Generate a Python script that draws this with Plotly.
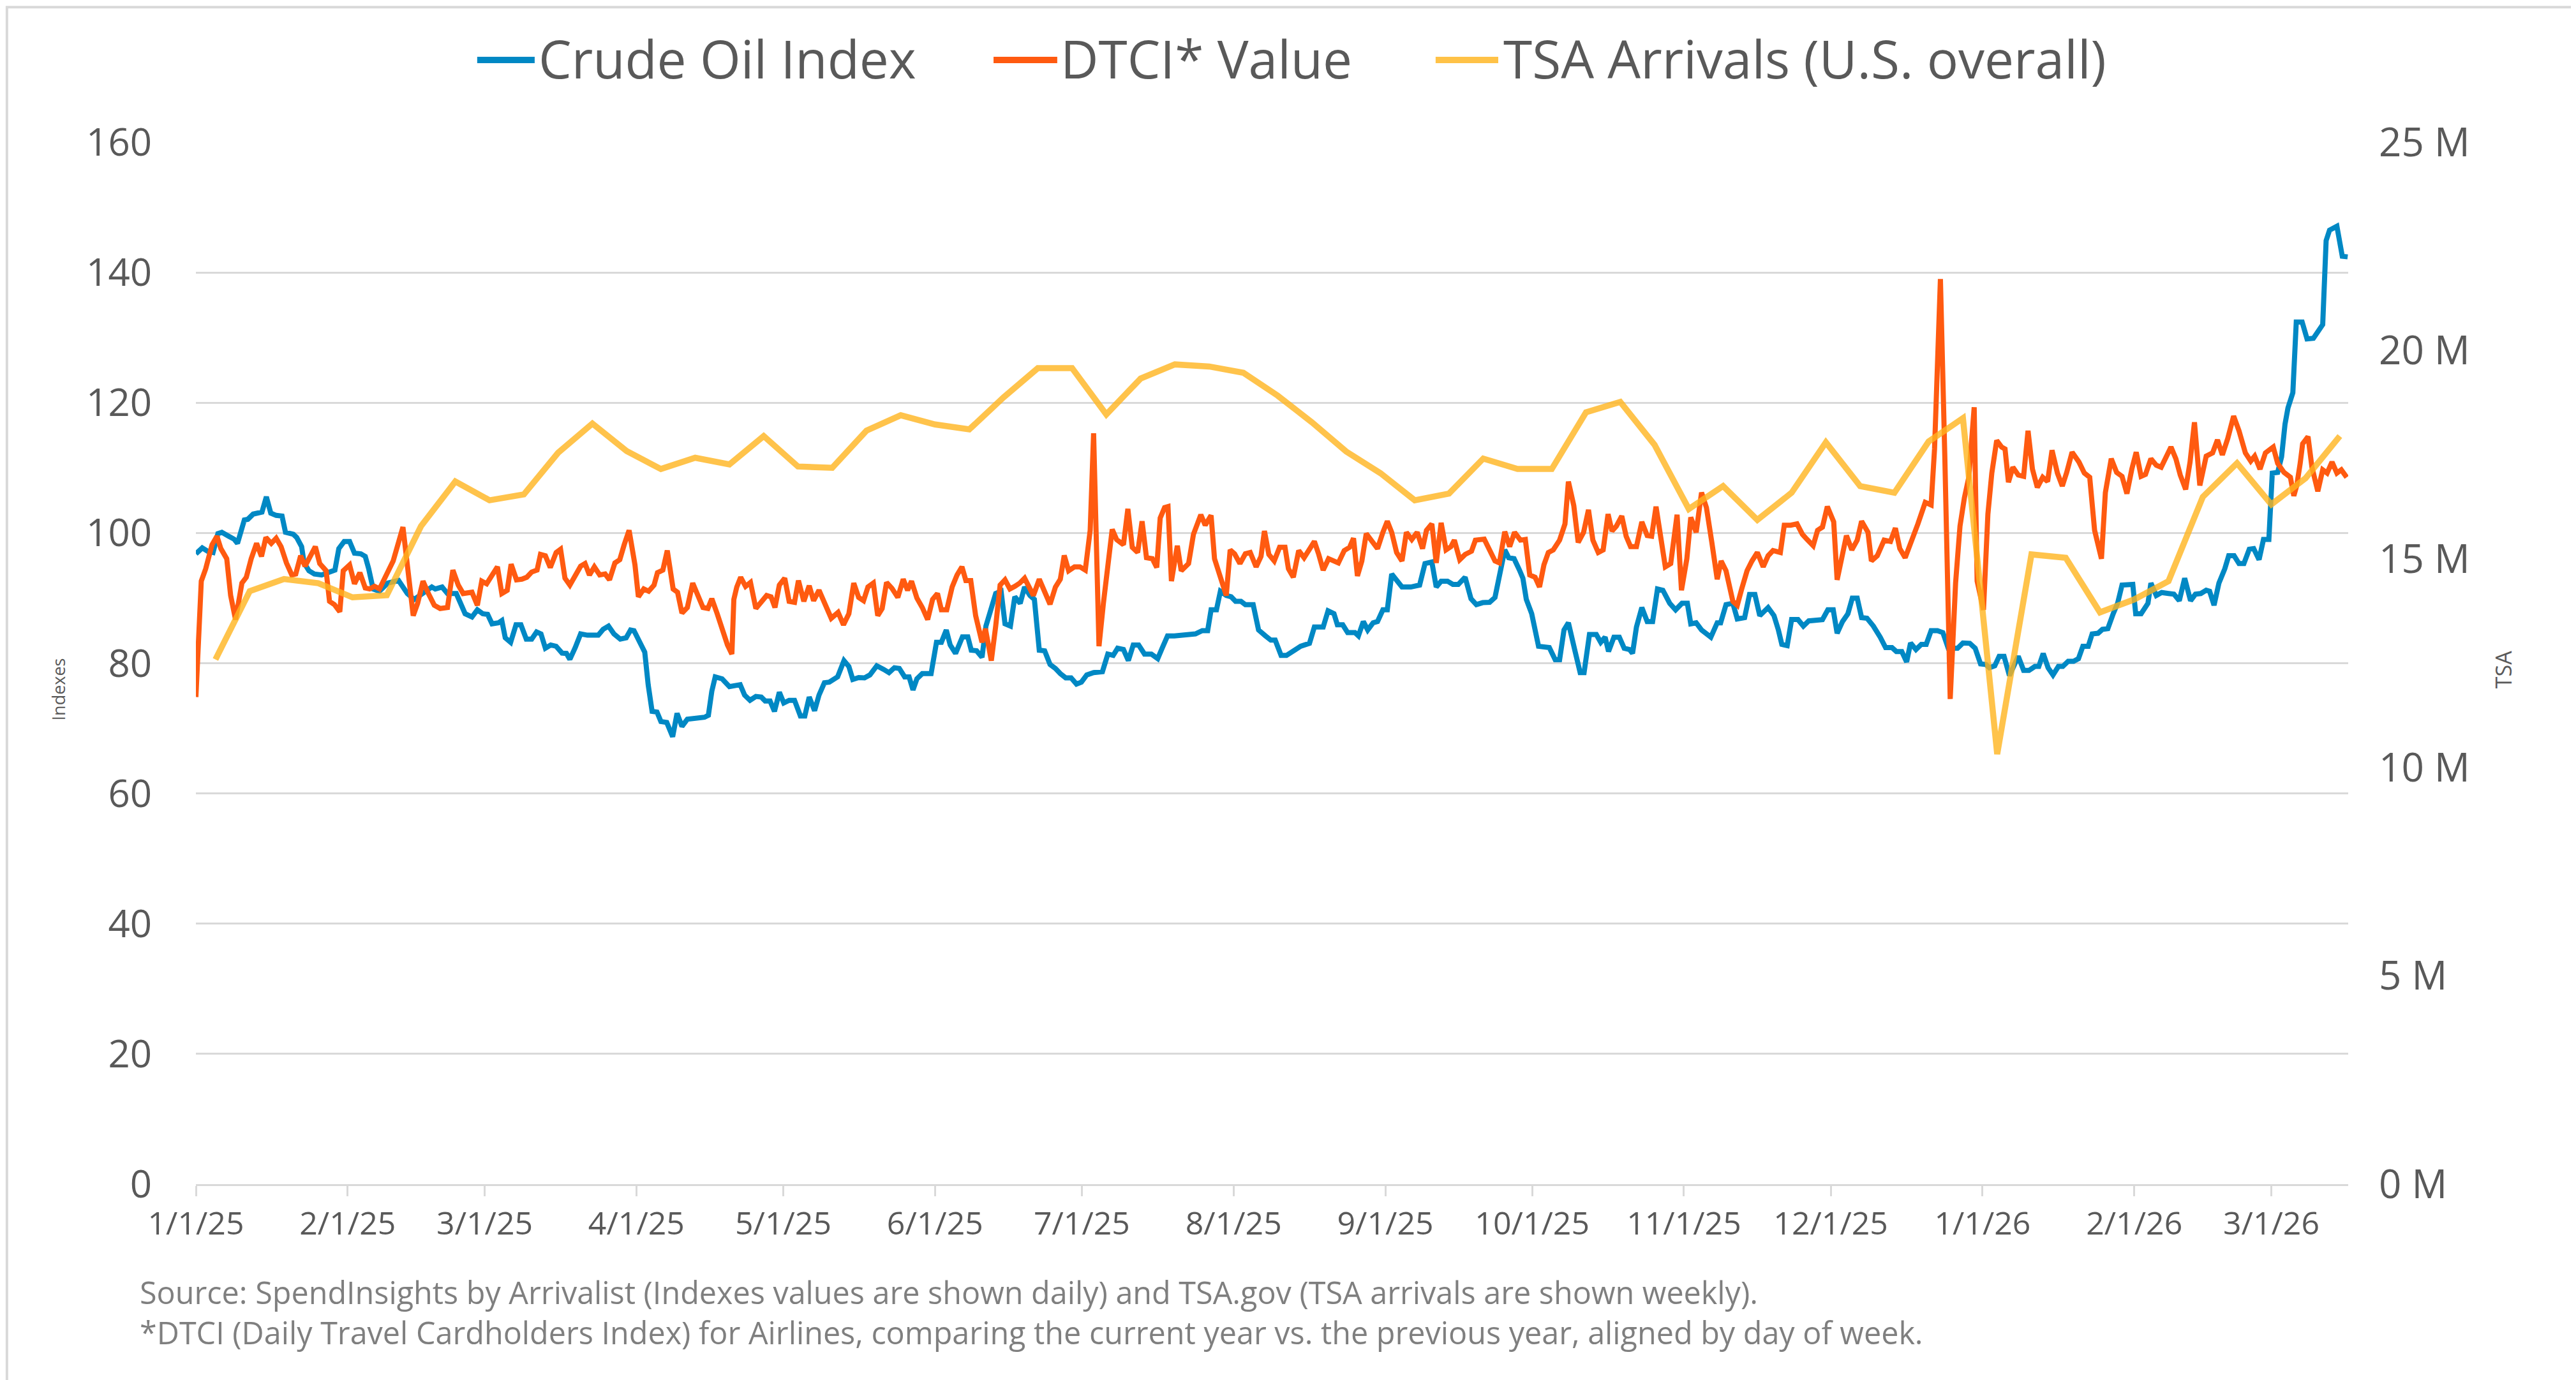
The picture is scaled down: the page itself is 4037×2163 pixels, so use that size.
import pandas as pd
import plotly.graph_objects as go

# ---------------- data ----------------
BASE_DATE = "2025-01-01"   # day offsets below are counted from this date

# Crude Oil Index (daily) : (day offset, index value)
crude_points = [
    (0, 96.8), (1.3, 97.7), (2.4, 97.2), (3.5, 97.0), (4.5, 99.9), (5.3, 100.1), (6.7, 99.5),
    (7.8, 99.05), (8.5, 98.4), (9.9, 102.0), (10.6, 102.1), (11.7, 102.9), (13.5, 103.2),
    (14.4, 105.55), (15.3, 103.05), (16.4, 102.7), (17.6, 102.6), (18.3, 100.1), (19.9, 99.8),
    (20.6, 99.3), (21.6, 97.9), (22.1, 95.4), (23.1, 94.2), (24.2, 93.7), (25.7, 93.55),
    (27.1, 93.9), (28.4, 94.3), (29.2, 97.6), (30.3, 98.7), (31.4, 98.7), (32.4, 96.9),
    (33.7, 96.8), (34.6, 96.4), (35.3, 94.5), (36.2, 91.4), (37.5, 91.05), (39.2, 92.3),
    (41.4, 92.7), (43.2, 90.7), (44.6, 89.8), (46.4, 90.7), (48.2, 91.7), (48.9, 91.4),
    (50.3, 91.7), (51.4, 90.7), (53.2, 90.7), (55, 87.6), (56.4, 87.1), (57.5, 88.2),
    (58.6, 87.6), (59.6, 87.5), (60.5, 86.05), (61.8, 86.2), (62.5, 86.55), (63.2, 83.9),
    (64.3, 83.2), (65.4, 85.9), (66.4, 85.9), (67.5, 83.7), (68.6, 83.7), (69.6, 84.8),
    (70.5, 84.5), (71.4, 82.3), (72.5, 82.8), (73.6, 82.6), (74.8, 81.55), (75.7, 81.5),
    (76.4, 80.6), (77.5, 82.4), (78.6, 84.5), (80, 84.3), (82.2, 84.3), (83.2, 85.2),
    (84.3, 85.7), (85.4, 84.5), (86.7, 83.7), (87.9, 83.9), (88.8, 85.1), (89.5, 85.0),
    (90.8, 83.2), (91.7, 81.7), (92.4, 76.7), (93.2, 72.6), (94.2, 72.5), (95, 71.05),
    (96.2, 70.9), (97.4, 68.7), (98.3, 72.3), (99.3, 70.3), (100.4, 71.4), (102.2, 71.5),
    (103.9, 71.7), (104.7, 72.0), (105.4, 75.7), (106.1, 77.9), (107.5, 77.6),
    (109, 76.4), (110.1, 76.5), (111.2, 76.7), (112.1, 75.1), (113.2, 74.3), (114.4, 74.9),
    (115.5, 74.8), (116.3, 74.2), (117.3, 74.2), (118.2, 72.6), (119.2, 75.55), (120.1, 73.9),
    (121.2, 74.3), (122.3, 74.3), (123.5, 71.9), (124.4, 71.9), (125.3, 74.8), (126.4, 72.7),
    (127.3, 75.1), (128.4, 77.0), (129.4, 77.1), (131.1, 77.9), (132.4, 80.4), (133.4, 79.5),
    (134.2, 77.5), (135.4, 77.8), (136.6, 77.75), (137.7, 78.2), (139.1, 79.6), (140.5, 79.05),
    (141.6, 78.55), (142.7, 79.3), (143.7, 79.2), (144.8, 77.9), (145.7, 77.9), (146.5, 75.9),
    (147.3, 77.6), (148.4, 78.4), (150.2, 78.4), (151.3, 83.2), (152.3, 83.2), (153.3, 85.1),
    (154.1, 82.8), (155.2, 81.5), (156.6, 84.05), (157.7, 84.05), (158.4, 82.0), (159.5, 81.9),
    (160.6, 80.9), (161.4, 85.7), (163.4, 90.7), (164.5, 91.05), (165.3, 86.05), (166.4, 85.7),
    (167.3, 90.2), (168.4, 89.2), (169.3, 91.7), (170.4, 90.4), (171.3, 89.8), (172.3, 82.0),
    (173.4, 81.9), (174.5, 79.8), (175.6, 79.2), (176.6, 78.4), (177.7, 77.75), (178.8, 77.75),
    (179.9, 76.8), (180.9, 77.1), (182, 78.2), (183.4, 78.55), (185.2, 78.7), (186.3, 81.4),
    (187.4, 81.2), (188.3, 82.3), (189.5, 82.1), (190.5, 80.4), (191.5, 82.8), (192.6, 82.8),
    (193.8, 81.4), (195.2, 81.4), (196.5, 80.7), (197.4, 82.3), (198.5, 84.2), (199.9, 84.2),
    (201.3, 84.3), (202.7, 84.5), (204.2, 84.5), (205.6, 85.0), (206.7, 85.0), (207.4, 88.2),
    (208.5, 88.2), (209.3, 91.05), (210.5, 90.4), (211.5, 90.2), (212.4, 89.5), (213.5, 89.5),
    (214.4, 89.0), (216, 89.0), (217.1, 85.1), (218.5, 84.2), (219.6, 83.55), (220.5, 83.55),
    (221.7, 81.2), (222.8, 81.2), (224.2, 81.9), (225.7, 82.6), (227.5, 83.05), (228.5, 85.55),
    (230.3, 85.55), (231.3, 88.05), (232.5, 87.6), (233.2, 85.9), (234.3, 85.9), (235.3, 84.7),
    (236.8, 84.7), (237.5, 84.2), (238.5, 86.4), (239.4, 85.1), (240.5, 86.2), (241.4, 86.4),
    (242.5, 88.2), (243.4, 88.2), (244.3, 93.7), (245.3, 92.6), (246.4, 91.7), (248.2, 91.7),
    (250, 92.0), (251.1, 95.3), (252.5, 95.55), (253.4, 91.7), (254.4, 92.6), (255.7, 92.6),
    (256.8, 92.1), (257.9, 92.1), (259.3, 93.2), (260.5, 89.9), (261.6, 89.0), (262.9, 89.3),
    (264.3, 89.35), (265.4, 90.1), (266.4, 93.9), (267.4, 97.4), (268.2, 96.2), (269.3, 96.05),
    (270.4, 94.3), (271.1, 93.05), (271.8, 89.8), (272.9, 87.6), (274.3, 82.6), (276.5, 82.4),
    (277.7, 80.55), (278.6, 80.55), (279.5, 85.1), (280.4, 86.2), (281.8, 81.7), (282.8, 78.55),
    (283.6, 78.55), (284.7, 84.4), (286.1, 84.4), (287, 83.2), (287.9, 84.0), (288.6, 81.8),
    (289.7, 84.0), (290.8, 84.0), (291.8, 82.3), (292.9, 82.1), (293.5, 81.5), (294.3, 85.55),
    (295.4, 88.55), (296.5, 86.4), (297.6, 86.4), (298.6, 91.4), (299.7, 91.2), (301.1, 89.2),
    (302.3, 88.2), (303.6, 89.2), (304.7, 89.2), (305.4, 86.05), (306.5, 86.2), (307.6, 85.1),
    (309.5, 84.0), (310.8, 86.2), (311.5, 86.2), (312.6, 89.0), (314, 89.2), (314.9, 86.8),
    (316.4, 87.0), (317.4, 90.55), (318.5, 90.55), (319.5, 87.3), (321.2, 88.55), (322.4, 87.3),
    (323.3, 85.1), (324, 82.9), (325.1, 82.7), (326, 86.7), (327.3, 86.7), (328.4, 85.7),
    (329.5, 86.5), (331, 86.7), (332.3, 86.7), (333.4, 88.2), (334.5, 88.2), (335.3, 84.6),
    (336.4, 86.4), (337.5, 87.6), (338.4, 90.0), (339.4, 90.0), (340.3, 87.0), (341.4, 86.9),
    (342.7, 85.7), (344.1, 84.0), (345.2, 82.4), (346.5, 82.4), (347.4, 81.8), (348.5, 81.8),
    (349.5, 80.2), (350.3, 83.1), (351.4, 82.1), (352.5, 82.9), (353.5, 82.9), (354.5, 85.0),
    (355.8, 85.0), (356.9, 84.7), (358, 82.3), (359.9, 82.3), (361, 83.1), (362.4, 83.05),
    (363.5, 82.3), (364.6, 79.9), (365.7, 79.8), (366.4, 79.3), (367.5, 79.6), (368.4, 81.05),
    (369.4, 81.05), (370.5, 78.1), (371.6, 80.1), (372.3, 81.05), (373.4, 78.9), (374.5, 78.9),
    (375.7, 79.5), (376.5, 79.5), (377.4, 81.5), (378.4, 79.3), (379.4, 78.2), (380.5, 79.5),
    (381.4, 79.5), (382.5, 80.3), (383.6, 80.3), (384.6, 80.7), (385.5, 82.6), (386.6, 82.6),
    (387.4, 84.5), (388.6, 84.6), (389.5, 85.2), (390.6, 85.3), (391.7, 87.6), (392.6, 89.2),
    (393.5, 92.0), (394.6, 92.1), (395.7, 92.1), (396.3, 87.6), (397.4, 87.6), (398.8, 89.2),
    (399.4, 92.3), (400.5, 90.4), (401.6, 90.85), (403, 90.7), (404.1, 90.6), (405.2, 89.6),
    (406.3, 93.05), (407.5, 89.6), (408.5, 90.6), (409.6, 90.7), (410.7, 91.2), (411.4, 91.05),
    (412.3, 88.9), (413.3, 92.3), (414.5, 94.5), (415.3, 96.5), (416.4, 96.5), (417.4, 95.3),
    (418.4, 95.3), (419.5, 97.5), (420.4, 97.6), (421.5, 95.9), (422.4, 99.0), (423.5, 99.0),
    (424.2, 109.2), (425.3, 109.3), (426.1, 111.7), (426.8, 116.7), (427.4, 119.2), (428.4, 121.55),
    (429.1, 132.4), (430.3, 132.4), (431.3, 129.8), (432.6, 129.9), (434.5, 132.0), (435.2, 144.9),
    (435.9, 146.5), (437.4, 147.1), (438.5, 142.5), (439.6, 142.4),
]

# DTCI* Value (daily) : (day offset, index value)
dtci_points = [
    (0, 74.8), (1.1, 92.6), (2, 94.5), (3.3, 98.2), (4.3, 99.5), (5.1, 97.6), (6.3, 96.05),
    (7.1, 90.4), (8.1, 86.7), (9.4, 92.3), (10.3, 93.2), (11.3, 96.05), (12.4, 98.4), (13.4, 96.4),
    (14.3, 99.3), (15.4, 98.4), (16.4, 99.2), (17.4, 97.9), (18.5, 95.4), (19.6, 93.55), (20.4, 93.7),
    (21.4, 96.5), (22.3, 94.9), (23.3, 96.4), (24.4, 97.9), (25.3, 95.3), (26.6, 94.2), (27.3, 89.5),
    (28.3, 89.0), (29.4, 87.9), (30.1, 94.2), (31.4, 95.1), (32.4, 92.2), (33.5, 93.9), (34.6, 91.55),
    (35.5, 91.4), (36.5, 91.8), (37.5, 91.4), (38.4, 92.9), (39.4, 94.3), (40.3, 95.7), (42.3, 100.9),
    (43.5, 92.9), (44.4, 87.3), (45.3, 89.2), (46.4, 92.6), (47.5, 90.7), (48.7, 88.9), (49.9, 88.4),
    (51.4, 88.55), (52.5, 94.3), (53.6, 92.0), (54.6, 90.7), (56.4, 90.9), (57.5, 88.9), (58.4, 92.6),
    (59.4, 92.2), (60.5, 93.55), (61.6, 94.8), (62.5, 90.7), (63.6, 91.2), (64.4, 95.2), (65.5, 92.8),
    (66.6, 92.9), (67.6, 93.2), (68.6, 94.0), (69.7, 94.3), (70.4, 96.7), (71.4, 96.5), (72.4, 94.7),
    (73.6, 97.0), (74.5, 97.5), (75.4, 93.05), (76.4, 92.0), (77.5, 93.4), (78.6, 94.9), (79.5, 95.3),
    (80.4, 93.55), (81.4, 94.8), (82.5, 93.55), (83.6, 93.7), (84.5, 92.8), (85.6, 95.4), (86.6, 95.9),
    (87.5, 98.2), (88.5, 100.4), (89.7, 95.1), (90.4, 90.2), (91.5, 91.4), (92.5, 91.05), (93.6, 92.0),
    (94.3, 93.9), (95.4, 94.3), (96.3, 97.3), (97.5, 91.4), (98.4, 90.9), (99.3, 87.7), (100.4, 88.55),
    (101.5, 92.3), (102.6, 90.2), (103.6, 88.55), (104.6, 88.4), (105.4, 89.9), (106.5, 87.6),
    (107.6, 85.1), (108.6, 82.8), (109.5, 81.4), (109.9, 89.8), (110.5, 91.7), (111.3, 93.2),
    (112.3, 91.8), (113.3, 92.4), (114.4, 88.4), (115.5, 89.5), (116.6, 90.4), (117.5, 90.2),
    (118.3, 88.55), (119.2, 92.0), (120.3, 93.05), (121.2, 89.5), (122.3, 89.35), (123.1, 92.7),
    (124.2, 89.5), (125.3, 91.9), (126.2, 89.6), (127.3, 91.2), (128.4, 89.2), (129.8, 86.9),
    (131.2, 87.8), (132.3, 85.9), (133.4, 87.6), (134.4, 92.3), (135.4, 90.1), (136.4, 89.6),
    (137.3, 91.7), (138.4, 92.3), (139.3, 87.3), (140.2, 88.4), (141.1, 92.4), (142.2, 91.5),
    (143.4, 90.1), (144.5, 92.9), (145.4, 91.2), (146.2, 92.6), (147.3, 90.0), (148.4, 88.55),
    (149.5, 86.7), (150.5, 89.8), (151.5, 90.7), (152.3, 88.2), (153.4, 88.2), (154.5, 91.7),
    (155.5, 93.55), (156.5, 94.8), (157.3, 92.7), (158.3, 92.7), (159.3, 87.3), (160.6, 83.2),
    (161.3, 85.3), (162.5, 80.4), (163.4, 85.7), (164.3, 92.0), (165.3, 92.8), (166.3, 91.4),
    (167.3, 91.8), (168.3, 92.3), (169.3, 93.05), (170.2, 91.7), (171.1, 90.4), (172.3, 92.9),
    (173.4, 90.7), (174.5, 89.05), (175.6, 91.7), (176.6, 92.9), (177.4, 96.55), (178.3, 94.2),
    (179.5, 94.8), (180.6, 94.8), (181.7, 94.3), (182.7, 100.4), (183.4, 115.3), (184.5, 82.6),
    (185.4, 89.2), (186.3, 95.7), (187.2, 100.55), (188.1, 99.0), (189.5, 98.2), (190.4, 103.7),
    (191.3, 97.8), (192.4, 97.0), (193.3, 101.8), (194.2, 96.2), (195.4, 96.05), (196.3, 94.7),
    (197, 102.3), (197.9, 103.9), (198.6, 104.05), (199.3, 92.6), (200.5, 98.05), (201.3, 94.2),
    (202.8, 95.3), (203.8, 99.8), (205.3, 102.8), (206.2, 101.2), (207.4, 102.7), (208.1, 96.05),
    (209.2, 93.55), (210.5, 90.4), (211.3, 97.4), (212.2, 96.8), (213.3, 95.3), (214.4, 96.8),
    (215.4, 97.0), (216.6, 94.8), (217.6, 96.4), (218.3, 100.3), (219.2, 96.7), (220.3, 95.7),
    (221.4, 97.8), (222.5, 97.8), (223.2, 94.5), (224.2, 93.2), (225.3, 97.3), (226.4, 96.2),
    (227.5, 97.5), (228.5, 98.7), (229.4, 96.7), (230.3, 94.3), (231.4, 96.05), (232.5, 95.6),
    (233.4, 95.4), (234.6, 97.3), (235.7, 97.8), (236.5, 99.2), (237.3, 93.4), (238.2, 95.7),
    (239.1, 99.9), (240.3, 98.7), (241.4, 97.6), (242.5, 100.1), (243.4, 101.8), (244.3, 100.1),
    (245.3, 97.0), (246.4, 95.7), (247.3, 100.1), (248.4, 99.0), (249.5, 100.1), (250.6, 97.6),
    (251.4, 100.4), (252.5, 101.4), (253.4, 95.4), (254.4, 101.55), (255.4, 97.4), (256.4, 97.9),
    (257.1, 98.9), (258.2, 95.9), (259.3, 96.7), (260.6, 97.2), (261.4, 98.9), (263.2, 99.05),
    (264.3, 97.3), (265.4, 95.7), (266.3, 95.4), (267.4, 100.2), (268.4, 97.9), (269.4, 100.1),
    (270.6, 98.9), (271.6, 99.0), (272.5, 93.55), (273.6, 93.2), (274.5, 91.7), (275.4, 95.1),
    (276.3, 97.0), (277.3, 97.4), (278.6, 98.9), (279.7, 101.4), (280.4, 107.9), (281.5, 104.2),
    (282.4, 98.55), (283.5, 100.1), (284.5, 103.55), (285.4, 98.9), (286.5, 97.0), (287.5, 97.4),
    (288.5, 102.9), (289.3, 100.3), (290.2, 101.05), (291.3, 102.6), (292.2, 99.5), (293.1, 97.9),
    (294.3, 97.9), (295.4, 101.7), (296.5, 99.6), (297.4, 99.5), (298.3, 104.05), (299.4, 98.55),
    (300.2, 94.8), (301.3, 95.3), (302.6, 102.8), (303.5, 91.2), (304.6, 96.05), (305.4, 102.4),
    (306.5, 100.1), (307.6, 106.2), (308.6, 103.9), (309.7, 98.55), (310.8, 92.9), (311.6, 95.7),
    (312.6, 94.2), (314, 89.5), (314.9, 88.9), (315.8, 91.4), (316.9, 94.2), (317.9, 95.7),
    (319, 97.0), (320.2, 94.8), (321.2, 96.5), (322.2, 97.3), (323.7, 97.0), (324.5, 101.2),
    (325.8, 101.2), (327.1, 101.4), (328.2, 99.8), (329.1, 99.05), (330.4, 98.05), (331.3, 100.4),
    (332.3, 100.9), (333.3, 104.05), (334.6, 101.7), (335.3, 92.8), (336.4, 96.4), (337.2, 99.6),
    (338.3, 97.4), (339.4, 98.9), (340.3, 101.8), (341.6, 100.1), (342.3, 95.7), (343.5, 96.5),
    (344.9, 98.9), (346.2, 98.7), (347.2, 100.75), (348.1, 97.6), (349.2, 96.2), (350.6, 98.9),
    (351.8, 101.4), (353.3, 104.7), (354.5, 104.3), (355.2, 112.9), (356.4, 139.0), (357.3, 111.7),
    (358.4, 74.5), (359.5, 92.3), (360.4, 101.05), (361.3, 105.4), (362.2, 108.55), (363.3, 119.3),
    (363.9, 92.6), (365.2, 88.2), (366.1, 102.9), (366.9, 109.2), (367.9, 114.2), (368.9, 113.2),
    (369.6, 112.9), (370.3, 107.8), (371.2, 110.1), (372.3, 108.9), (373.4, 108.7), (374.3, 115.7),
    (375.2, 109.8), (376.2, 107.0), (377.3, 108.55), (378.3, 107.9), (379.2, 112.7), (380.3, 109.2),
    (381.3, 107.2), (382.2, 109.3), (383.3, 112.4), (384.7, 110.9), (385.8, 109.2), (386.9, 108.55),
    (387.9, 100.4), (389.3, 96.05), (390.1, 106.2), (391.3, 111.4), (392.4, 109.3), (393.5, 108.7),
    (394.5, 106.05), (395.5, 109.8), (396.4, 112.4), (397.4, 108.7), (398.3, 109.0), (399.4, 111.4),
    (400.5, 110.4), (401.5, 110.1), (402.6, 111.7), (403.5, 113.2), (404.5, 111.4), (405.4, 108.9),
    (406.5, 106.7), (407.4, 110.9), (408.3, 117.0), (409.4, 107.3), (410.7, 111.8), (412, 112.3),
    (413, 114.3), (414, 112.0), (415.1, 114.5), (416.3, 117.95), (417.4, 115.7), (418.7, 112.3),
    (419.8, 111.05), (420.6, 111.8), (421.7, 109.8), (422.8, 112.3), (424.4, 113.2), (425.3, 110.7),
    (426.6, 109.3), (427.9, 108.55), (428.6, 105.7), (429.2, 107.3), (429.9, 110.7), (430.4, 113.7),
    (431.5, 114.8), (432.3, 110.1), (433.5, 106.4), (434.5, 109.7), (435.4, 109.2), (436.4, 110.9),
    (437.4, 109.2), (438.3, 109.7), (439.4, 108.55),
]

# TSA Arrivals (U.S. overall), weekly, millions
tsa_first_week = "2025-01-05"
tsa_millions = [
    12.59, 14.23, 14.52, 14.42, 14.08, 14.13, 15.79, 16.86, 16.41, 16.55,
    17.55, 18.25, 17.59, 17.16, 17.43, 17.27, 17.95, 17.22, 17.19, 18.08,
    18.45, 18.23, 18.11, 18.88, 19.58, 19.58, 18.47, 19.33, 19.67, 19.62,
    19.47, 18.92, 18.28, 17.58, 17.06, 16.41, 16.57, 17.41, 17.16, 17.16,
    18.52, 18.77, 17.74, 16.20, 16.75, 15.94, 16.59, 17.80, 16.75, 16.59,
    17.82, 18.38, 10.32, 15.11, 15.03, 13.72, 14.03, 14.47, 16.49, 17.30,
    16.31, 16.94, 17.95,
]

series_names = ["Crude Oil Index", "DTCI* Value", "TSA Arrivals (U.S. overall)"]

x_tick_dates = ["2025-01-01", "2025-02-01", "2025-03-01", "2025-04-01", "2025-05-01",
                "2025-06-01", "2025-07-01", "2025-08-01", "2025-09-01", "2025-10-01",
                "2025-11-01", "2025-12-01", "2026-01-01", "2026-02-01", "2026-03-01"]
x_tick_labels = ["1/1/25", "2/1/25", "3/1/25", "4/1/25", "5/1/25", "6/1/25", "7/1/25",
                 "8/1/25", "9/1/25", "10/1/25", "11/1/25", "12/1/25", "1/1/26", "2/1/26", "3/1/26"]
left_ticks = [0, 20, 40, 60, 80, 100, 120, 140, 160]
right_ticks = [0, 5, 10, 15, 20, 25]
right_tick_labels = ["0 M", "5 M", "10 M", "15 M", "20 M", "25 M"]

footnote = ("Source: SpendInsights by Arrivalist (Indexes values are shown daily) and TSA.gov "
            "(TSA arrivals are shown weekly).<br>"
            "*DTCI (Daily Travel Cardholders Index) for Airlines, comparing the current year vs. "
            "the previous year, aligned by day of week.")

# ---------------- build ----------------
base = pd.Timestamp(BASE_DATE)


def to_dates(points):
    return [base + pd.Timedelta(days=d) for d, _ in points]


def to_vals(points):
    return [v for _, v in points]


tsa_dates = pd.date_range(tsa_first_week, periods=len(tsa_millions), freq="7D")

FONT = "Open Sans"
GRID = "#D9D9D9"
TXT = "#595959"
COLORS = ["#0088C4", "#FF5A10", "rgba(255,180,30,0.8)"]
LEGEND_SWATCH = ["#0088C4", "#FF5A10", "#FFC247"]

fig = go.Figure()
fig.add_trace(go.Scatter(x=to_dates(crude_points), y=to_vals(crude_points), mode="lines",
                         name=series_names[0], line=dict(color=COLORS[0], width=8)))
fig.add_trace(go.Scatter(x=to_dates(dtci_points), y=to_vals(dtci_points), mode="lines",
                         name=series_names[1], line=dict(color=COLORS[1], width=8)))
fig.add_trace(go.Scatter(x=tsa_dates, y=tsa_millions, mode="lines", yaxis="y2",
                         name=series_names[2], line=dict(color=COLORS[2], width=9.5)))

# legend drawn as swatch lines + labels above the plot (paper coordinates)
legend_swatch_x = [(0.1307, 0.1574), (0.3706, 0.4002), (0.5760, 0.6051)]
legend_text_x = [0.1585, 0.4010, 0.6070]
LEG_Y_LINE = 1.0790
LEG_Y_TEXT = 1.0810

shapes = [
    dict(type="rect", xref="paper", yref="paper", x0=-0.0878, x1=1.107, y0=-0.1905, y1=1.1296,
         line=dict(color=GRID, width=4), fillcolor="rgba(0,0,0,0)", layer="below"),
]
annotations = [
    dict(text="Indexes", xref="paper", yref="paper", x=-0.064, y=0.475, showarrow=False,
         textangle=-90, font=dict(size=27, color=TXT), xanchor="center", yanchor="middle"),
    dict(text="TSA", xref="paper", yref="paper", x=1.072, y=0.494, showarrow=False,
         textangle=-90, font=dict(size=34, color=TXT), xanchor="center", yanchor="middle"),
    dict(text=footnote, xref="paper", yref="paper", x=-0.0267, y=-0.123, showarrow=False,
         xanchor="left", yanchor="middle", align="left",
         font=dict(size=48.5, color="#7F7F7F")),
]
for (x0, x1), tx, name, col in zip(legend_swatch_x, legend_text_x, series_names, LEGEND_SWATCH):
    shapes.append(dict(type="line", xref="paper", yref="paper", x0=x0, x1=x1,
                       y0=LEG_Y_LINE, y1=LEG_Y_LINE, line=dict(color=col, width=10)))
    annotations.append(dict(text=name, xref="paper", yref="paper", x=tx, y=LEG_Y_TEXT,
                            showarrow=False, xanchor="left", yanchor="middle",
                            font=dict(size=82, color=TXT)))

fig.update_layout(
    width=4037, height=2163,
    margin=dict(l=299, r=365, t=215, b=315),
    paper_bgcolor="white", plot_bgcolor="white",
    font=dict(family=FONT, color=TXT),
    showlegend=False,
    xaxis=dict(type="date", range=["2025-01-01", "2026-03-16 17:00"],
               tickvals=x_tick_dates, ticktext=x_tick_labels,
               tickfont=dict(size=50, color=TXT), ticks="outside", ticklen=16,
               tickcolor=GRID, tickwidth=3, showline=True, linecolor=GRID, linewidth=3,
               showgrid=False, zeroline=False, ticklabelstandoff=0),
    yaxis=dict(range=[0, 160], tickvals=left_ticks, tickfont=dict(size=60, color=TXT),
               showgrid=True, gridcolor=GRID, gridwidth=3, zeroline=False, showline=False,
               ticks="", ticklabelstandoff=68),
    yaxis2=dict(range=[0, 25], overlaying="y", side="right", tickvals=right_ticks,
                ticktext=right_tick_labels, tickfont=dict(size=62, color=TXT),
                showgrid=False, zeroline=False, showline=False, ticks="",
                ticklabelstandoff=47),
    annotations=annotations,
    shapes=shapes,
)

fig.write_html("out.html")
